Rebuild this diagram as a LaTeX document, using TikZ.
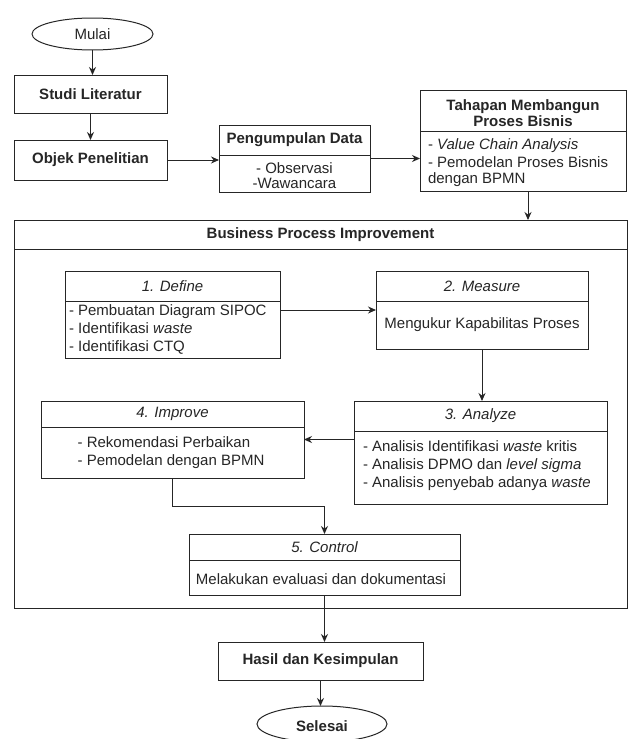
\documentclass[tikz,border=0pt]{standalone}
\usepackage{fontspec}
\setmainfont{Liberation Sans}
\usetikzlibrary{arrows.meta,shapes.geometric}
\definecolor{ink}{HTML}{262626}
\begin{document}
\begin{tikzpicture}[x=1pt,y=-1pt,
  every node/.style={font=\fontsize{15}{18}\selectfont, text=ink, outer sep=0pt},
  boxshape/.style={draw=ink, line width=1pt, rectangle, inner sep=0pt},
  oval/.style={draw=ink, line width=1pt, ellipse, inner sep=0pt},
  txt/.style={inner sep=0pt},
  bold/.style={txt, font=\fontsize{15}{18}\selectfont\bfseries},
  head/.style={txt, font=\fontsize{15}{18}\selectfont\itshape},
  divider/.style={draw=ink, line width=1pt},
  arr/.style={draw=ink, line width=1pt, -{Stealth[length=8pt,width=7pt]}},
]
\clip (0,0) rectangle (630,739);
\fill[white] (0,0) rectangle (630,739);

% top column
\node[oval, minimum width=121, minimum height=32] (mulai) at (92.5,34) {};
\node[txt] at (mulai.center) {Mulai};
\node[boxshape, minimum width=153, minimum height=38] (studi) at (90.5,94) {};
\node[bold] at (studi.center) {Studi Literatur};
\node[boxshape, minimum width=153, minimum height=40] (objek) at (90.5,160) {};
\node[bold] at (objek.center) {Objek Penelitian};

% data collection
\node[boxshape, minimum width=151, minimum height=67] (peng) at (294.5,158.5) {};
\draw[divider] (peng.west |- 0,155) -- (peng.east |- 0,155);
\node[bold] at (294.5,140) {Pengumpulan Data};
\node[txt, align=center] at (294.5,175.5) {- Observasi\\[-3pt]-Wawancara};

% business process modelling steps
\node[boxshape, minimum width=206, minimum height=101] (tahap) at (523,140.5) {};
\draw[divider] (tahap.west |- 0,131) -- (tahap.east |- 0,131);
\node[bold, align=center, font=\fontsize{15}{16}\selectfont\bfseries] at (523,113) {Tahapan Membangun\\Proses Bisnis};
\node[txt, align=left, anchor=west] at (428,163) {- \textit{Value Chain Analysis}\\- Pemodelan Proses Bisnis\\[-2pt]dengan BPMN};

% improvement container
\node[boxshape, minimum width=613, minimum height=388] (bpi) at (320.5,414) {};
\draw[divider] (bpi.west |- 0,249) -- (bpi.east |- 0,249);
\node[bold] at (320.5,234.5) {Business Process Improvement};

% DMAIC stages
\node[boxshape, minimum width=215, minimum height=87] (define) at (172.5,314.5) {};
\draw[divider] (define.west |- 0,301) -- (define.east |- 0,301);
\node[head] at (172.5,286) {1. Define};
\node[txt, align=left, anchor=west] at (69,329) {- Pembuatan Diagram SIPOC\\- Identifikasi \textit{waste}\\- Identifikasi CTQ};

\node[boxshape, minimum width=212, minimum height=78] (measure) at (482,310) {};
\draw[divider] (measure.west |- 0,301) -- (measure.east |- 0,301);
\node[head] at (482,286) {2. Measure};
\node[txt] at (482,325) {Mengukur Kapabilitas Proses};

\node[boxshape, minimum width=253, minimum height=103] (analyze) at (480.5,452.5) {};
\draw[divider] (analyze.west |- 0,431) -- (analyze.east |- 0,431);
\node[head] at (480.5,416) {3. Analyze};
\node[txt, align=left, anchor=west] at (363,466) {- Analisis Identifikasi \textit{waste} kritis\\- Analisis DPMO dan \textit{level sigma}\\- Analisis penyebab adanya \textit{waste}};

\node[boxshape, minimum width=263, minimum height=77] (improve) at (172.5,439.5) {};
\draw[divider] (improve.west |- 0,427) -- (improve.east |- 0,427);
\node[head] at (172.5,414) {4. Improve};
\node[txt, align=left] at (171,452.5) {- Rekomendasi Perbaikan\\- Pemodelan dengan BPMN};

\node[boxshape, minimum width=271, minimum height=61] (control) at (324.5,564.5) {};
\draw[divider] (control.west |- 0,560) -- (control.east |- 0,560);
\node[head] at (324.5,547) {5. Control};
\node[txt] at (321,579) {Melakukan evaluasi dan dokumentasi};

% closing
\node[boxshape, minimum width=205, minimum height=38] (hasil) at (320.5,661) {};
\node[bold] at (hasil.center) {Hasil dan Kesimpulan};
\node[oval, minimum width=130, minimum height=36] (selesai) at (322,724) {};
\node[bold] at (322,726) {Selesai};

% connectors
\coordinate (bend) at (0,506);
\draw[arr] (mulai.south) -- (mulai.south |- studi.north);
\draw[arr] (studi.south) -- (objek.north);
\draw[arr] (objek.east) -- (objek.east -| peng.west);
\draw[arr] (peng.east) -- (peng.east -| tahap.west);
\draw[arr] ([xshift=5pt]tahap.south) -- ([xshift=5pt]tahap.south |- bpi.north);
\draw[arr] (measure.west -| define.east) -- (measure.west);
\draw[arr] (measure.south) -- (measure.south |- analyze.north);
\draw[arr] (improve.east -| analyze.west) -- (improve.east);
\draw[arr] (improve.south) -- (improve.south |- bend) -| (control.north);
\draw[arr] (control.south) -- (control.south |- hasil.north);
\draw[arr] (hasil.south) -- (hasil.south |- selesai.north);
\end{tikzpicture}
\end{document}
